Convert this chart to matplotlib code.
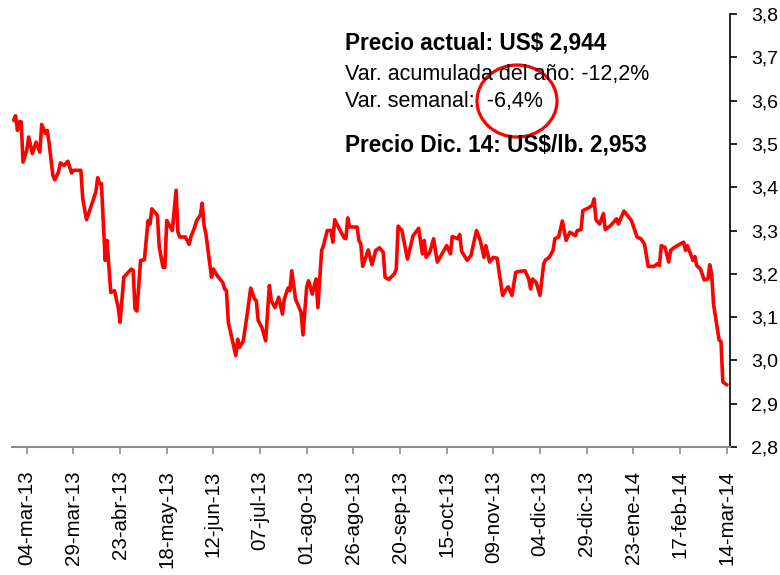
import matplotlib
matplotlib.use("Agg")
import matplotlib.pyplot as plt
from matplotlib.patches import Ellipse
import pandas as pd

plt.rcParams['font.family'] = ['Liberation Sans', 'DejaVu Sans']

fechas = [
    "2013-02-25", "2013-02-26", "2013-02-27", "2013-02-28", "2013-03-01", "2013-03-02",
    "2013-03-04", "2013-03-05", "2013-03-07", "2013-03-09", "2013-03-11", "2013-03-12",
    "2013-03-14", "2013-03-15", "2013-03-16", "2013-03-18", "2013-03-19", "2013-03-21",
    "2013-03-22", "2013-03-24", "2013-03-26", "2013-03-28", "2013-03-29", "2013-04-02",
    "2013-04-03", "2013-04-05", "2013-04-07", "2013-04-10", "2013-04-11", "2013-04-12",
    "2013-04-13", "2013-04-15", "2013-04-16", "2013-04-18", "2013-04-20", "2013-04-22",
    "2013-04-23", "2013-04-25", "2013-04-29", "2013-04-30", "2013-05-01", "2013-05-02",
    "2013-05-04", "2013-05-06", "2013-05-08", "2013-05-09", "2013-05-10", "2013-05-13",
    "2013-05-14", "2013-05-16", "2013-05-17", "2013-05-18", "2013-05-21", "2013-05-23",
    "2013-05-24", "2013-05-25", "2013-05-28", "2013-05-30", "2013-05-31", "2013-06-02",
    "2013-06-03", "2013-06-05", "2013-06-06", "2013-06-07", "2013-06-08", "2013-06-11",
    "2013-06-12", "2013-06-14", "2013-06-17", "2013-06-18", "2013-06-19", "2013-06-20",
    "2013-06-24", "2013-06-25", "2013-06-26", "2013-06-28", "2013-06-30", "2013-07-02",
    "2013-07-04", "2013-07-05", "2013-07-06", "2013-07-08", "2013-07-10", "2013-07-12",
    "2013-07-13", "2013-07-15", "2013-07-17", "2013-07-19", "2013-07-20", "2013-07-22",
    "2013-07-23", "2013-07-24", "2013-07-26", "2013-07-29", "2013-07-30", "2013-08-01",
    "2013-08-02", "2013-08-04", "2013-08-06", "2013-08-07", "2013-08-09", "2013-08-10",
    "2013-08-12", "2013-08-14", "2013-08-15", "2013-08-16", "2013-08-21", "2013-08-22",
    "2013-08-23", "2013-08-24", "2013-08-28", "2013-08-29", "2013-08-30", "2013-08-31",
    "2013-09-03", "2013-09-05", "2013-09-07", "2013-09-09", "2013-09-11", "2013-09-12",
    "2013-09-14", "2013-09-17", "2013-09-18", "2013-09-19", "2013-09-21", "2013-09-24",
    "2013-09-27", "2013-09-30", "2013-10-02", "2013-10-03", "2013-10-04", "2013-10-06",
    "2013-10-08", "2013-10-10", "2013-10-13", "2013-10-15", "2013-10-17", "2013-10-18",
    "2013-10-21", "2013-10-22", "2013-10-23", "2013-10-26", "2013-10-28", "2013-10-31",
    "2013-11-02", "2013-11-04", "2013-11-05", "2013-11-07", "2013-11-09", "2013-11-11",
    "2013-11-12", "2013-11-14", "2013-11-16", "2013-11-17", "2013-11-19", "2013-11-21",
    "2013-11-22", "2013-11-26", "2013-11-28", "2013-11-29", "2013-11-30", "2013-12-02",
    "2013-12-04", "2013-12-06", "2013-12-07", "2013-12-09", "2013-12-11", "2013-12-12",
    "2013-12-14", "2013-12-16", "2013-12-18", "2013-12-20", "2013-12-23", "2013-12-24",
    "2013-12-26", "2013-12-27", "2013-12-30", "2014-01-01", "2014-01-02", "2014-01-03",
    "2014-01-05", "2014-01-07", "2014-01-08", "2014-01-11", "2014-01-14", "2014-01-15",
    "2014-01-18", "2014-01-22", "2014-01-25", "2014-01-27", "2014-01-29", "2014-01-31",
    "2014-02-03", "2014-02-05", "2014-02-06", "2014-02-07", "2014-02-09", "2014-02-11",
    "2014-02-12", "2014-02-14", "2014-02-18", "2014-02-19", "2014-02-20", "2014-02-21",
    "2014-02-24", "2014-02-25", "2014-02-26", "2014-02-28", "2014-03-02", "2014-03-04",
    "2014-03-05", "2014-03-06", "2014-03-07", "2014-03-10", "2014-03-11", "2014-03-12",
    "2014-03-13", "2014-03-14",
]

precio = [
    3.555, 3.565, 3.531, 3.551, 3.551, 3.458,
    3.485, 3.516, 3.478, 3.504, 3.481, 3.545,
    3.524, 3.531, 3.501, 3.427, 3.417, 3.435,
    3.456, 3.450, 3.460, 3.433, 3.439, 3.439,
    3.373, 3.325, 3.350, 3.389, 3.422, 3.408,
    3.408, 3.231, 3.277, 3.157, 3.161, 3.122,
    3.088, 3.192, 3.211, 3.208, 3.119, 3.114,
    3.231, 3.232, 3.323, 3.314, 3.350, 3.335,
    3.261, 3.215, 3.215, 3.323, 3.300, 3.393,
    3.296, 3.285, 3.285, 3.268, 3.286, 3.308,
    3.323, 3.335, 3.363, 3.312, 3.292, 3.192,
    3.211, 3.196, 3.180, 3.165, 3.161, 3.088,
    3.011, 3.049, 3.030, 3.045, 3.103, 3.167,
    3.142, 3.138, 3.092, 3.076, 3.045, 3.173,
    3.138, 3.122, 3.146, 3.107, 3.142, 3.167,
    3.161, 3.207, 3.142, 3.111, 3.059, 3.169,
    3.184, 3.153, 3.188, 3.122, 3.254, 3.265,
    3.300, 3.300, 3.273, 3.325, 3.283, 3.281,
    3.329, 3.308, 3.308, 3.277, 3.269, 3.217,
    3.255, 3.221, 3.254, 3.260, 3.250, 3.192,
    3.187, 3.200, 3.211, 3.310, 3.300, 3.234,
    3.288, 3.305, 3.246, 3.277, 3.238, 3.250,
    3.281, 3.227, 3.250, 3.265, 3.246, 3.286,
    3.281, 3.291, 3.252, 3.231, 3.242, 3.300,
    3.277, 3.238, 3.265, 3.227, 3.238, 3.236,
    3.207, 3.150, 3.165, 3.170, 3.150, 3.203,
    3.205, 3.207, 3.188, 3.165, 3.188, 3.180,
    3.150, 3.223, 3.232, 3.238, 3.254, 3.281,
    3.285, 3.322, 3.277, 3.296, 3.288, 3.300,
    3.302, 3.346, 3.352, 3.358, 3.373, 3.325,
    3.315, 3.339, 3.302, 3.312, 3.327, 3.315,
    3.345, 3.323, 3.285, 3.281, 3.269, 3.217,
    3.217, 3.223, 3.219, 3.265, 3.261, 3.227,
    3.254, 3.261, 3.271, 3.273, 3.254, 3.265,
    3.231, 3.240, 3.219, 3.211, 3.186, 3.188,
    3.221, 3.200, 3.130, 3.047, 3.044, 2.950,
    2.947, 2.944,
]

tick_fechas = ["2013-03-04", "2013-03-29", "2013-04-23", "2013-05-18", "2013-06-12",
               "2013-07-07", "2013-08-01", "2013-08-26", "2013-09-20", "2013-10-15",
               "2013-11-09", "2013-12-04", "2013-12-29", "2014-01-23", "2014-02-17",
               "2014-03-14"]
tick_etiquetas = ["04-mar-13", "29-mar-13", "23-abr-13", "18-may-13", "12-jun-13",
                  "07-jul-13", "01-ago-13", "26-ago-13", "20-sep-13", "15-oct-13",
                  "09-nov-13", "04-dic-13", "29-dic-13", "23-ene-14", "17-feb-14",
                  "14-mar-14"]
y_ticks = [2.8, 2.9, 3.0, 3.1, 3.2, 3.3, 3.4, 3.5, 3.6, 3.7, 3.8]
y_etiquetas = ["2,8", "2,9", "3,0", "3,1", "3,2", "3,3", "3,4", "3,5", "3,6", "3,7", "3,8"]

lineas_texto = [
    ("Precio actual: US$ 2,944", "bold"),
    ("Var. acumulada del año: -12,2%", "normal"),
    ("Var. semanal:  -6,4%", "normal"),
    ("Precio Dic. 14: US$/lb. 2,953", "bold"),
]

W, H = 780, 575
fig = plt.figure(figsize=(W / 100, H / 100), dpi=100)
ax = fig.add_axes([12 / W, 1 - 447 / H, (730 - 12) / W, (447 - 14) / H])

x = pd.to_datetime(fechas)
ax.plot(x, precio, color="#ff0000", lw=2.6, solid_joinstyle="round")

ax.set_ylim(2.8, 3.8)
ax.set_xlim(pd.Timestamp("2013-02-24 02:00"), pd.Timestamp("2014-03-15 20:00"))

ax.set_xticks(pd.to_datetime(tick_fechas))
ax.set_xticklabels(tick_etiquetas, rotation=90, fontsize=14.8)
ax.set_yticks(y_ticks)
ax.set_yticklabels(y_etiquetas, fontsize=14)

ax.yaxis.tick_right()
ax.spines["left"].set_visible(False)
ax.spines["top"].set_visible(False)
ax.spines["right"].set_color("black")
ax.spines["right"].set_linewidth(1.2)
ax.spines["bottom"].set_color("#8c8c8c")
ax.spines["bottom"].set_linewidth(1.5)
ax.tick_params(axis="y", direction="out", length=5, width=1.2, color="black", pad=10)
ax.tick_params(axis="x", direction="out", length=5, width=1.2, color="#8c8c8c", pad=12)

ys = [43, 74, 102, 145]
for (txt, w), yy in zip(lineas_texto, ys):
    fig.text(345 / W, 1 - yy / H, txt, fontsize=16.3 if w == "bold" else 15.5,
             fontweight=w, ha="left", va="center", color="black")

circ = Ellipse((517 / W, 1 - 101 / H), 80 / W, 72 / H, transform=fig.transFigure,
               fill=False, edgecolor="#ff0000", lw=2.3)
fig.patches.append(circ)

fig.savefig("out.png", dpi=100)
